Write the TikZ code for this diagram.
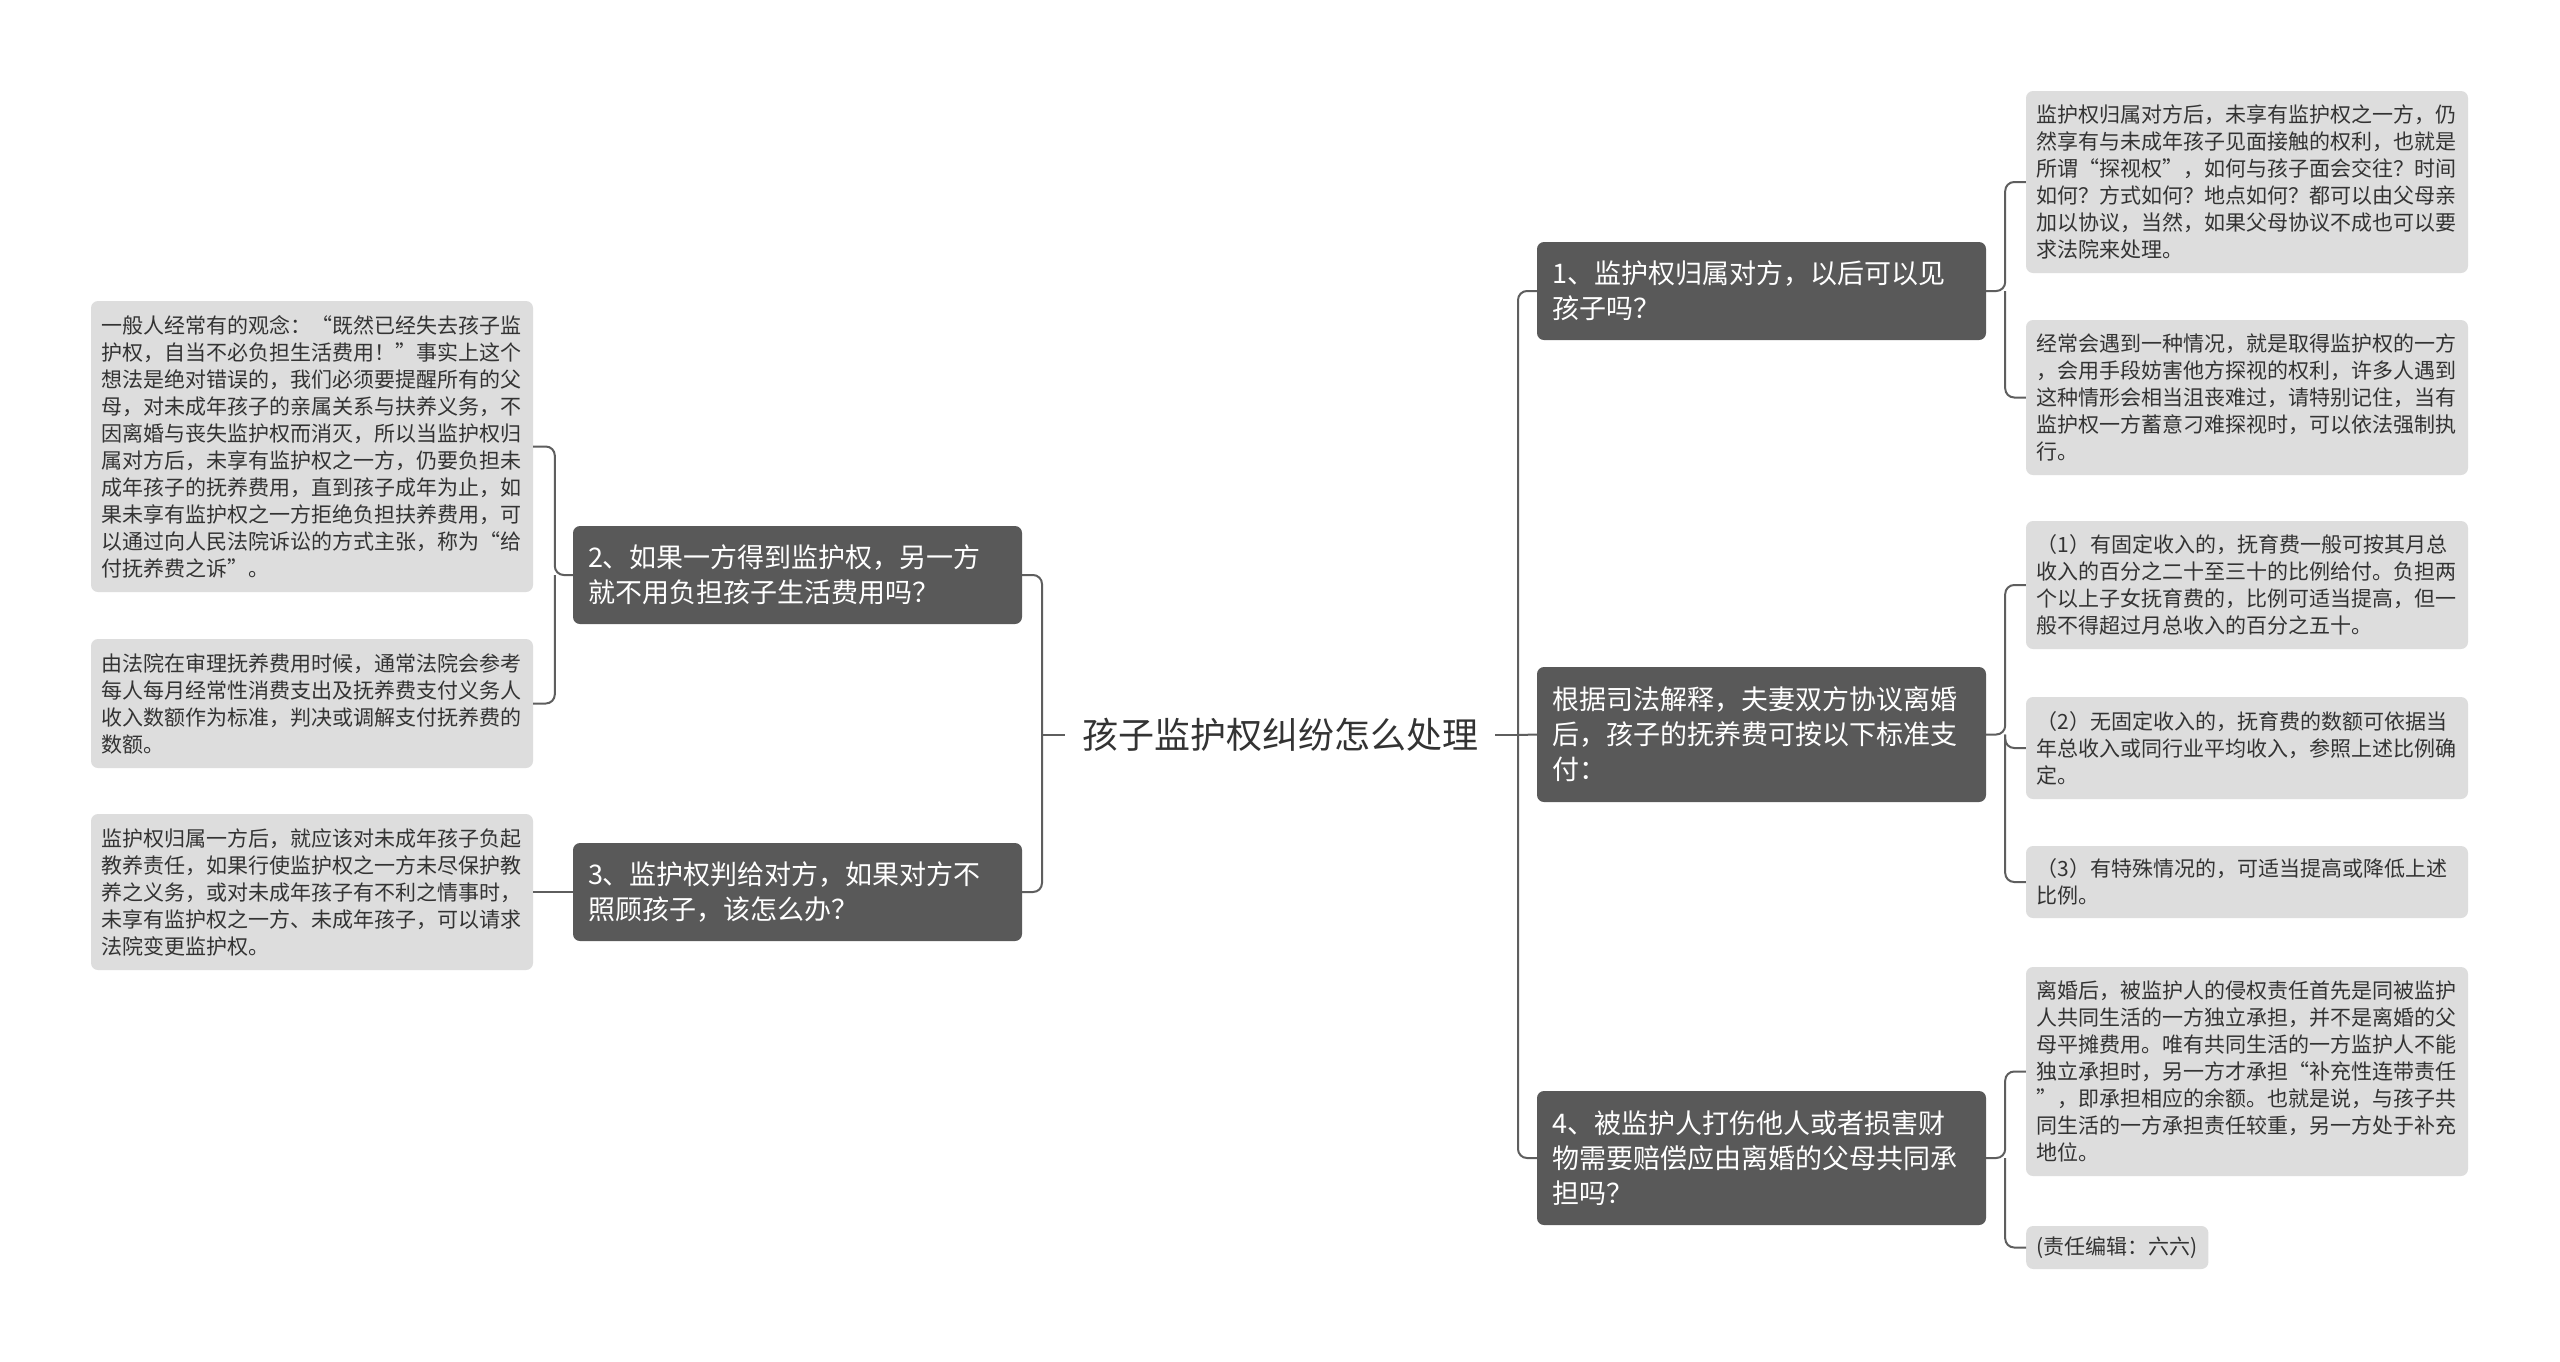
\documentclass[tikz,border=0pt]{standalone}
\usepackage{fontspec}
\setmainfont{Noto Sans CJK SC}
\definecolor{maingray}{HTML}{595959}
\definecolor{leafgray}{HTML}{DDDDDD}
\definecolor{linegray}{HTML}{5E5E5E}
\definecolor{txtdark}{HTML}{333333}
\tikzset{
  mainbox/.style={fill=maingray, rounded corners=7pt, text=white, align=left,
    text width=419pt, inner xsep=15pt, inner ysep=0pt,
    font=\fontsize{27pt}{35pt}\selectfont},
  leafbox/.style={fill=leafgray, rounded corners=7pt, text=txtdark, align=left,
    text width=421pt, inner xsep=10.5pt, inner ysep=0pt,
    font=\fontsize{21pt}{27pt}\selectfont},
  smallleaf/.style={fill=leafgray, rounded corners=7pt, text=txtdark,
    inner xsep=10.5pt, inner ysep=0pt, font=\fontsize{21pt}{27pt}\selectfont},
  conn/.style={draw=linegray, line width=2pt, rounded corners=9pt},
}
\begin{document}
\begin{tikzpicture}[x=1pt,y=-1pt]
\fill[white] (0,0) rectangle (2560,1361);
% center
\node[text=txtdark, font=\fontsize{36pt}{44pt}\selectfont, inner xsep=17pt] (c) at (1280,735) {孩子监护权纠纷怎么处理};
% right main nodes
\node[mainbox, minimum height=98pt] (m1) at (1761.5,291) {1、监护权归属对方，以后可以见\\孩子吗？};
\node[mainbox, minimum height=135pt] (m2) at (1761.5,734.5) {根据司法解释，夫妻双方协议离婚\\后，孩子的抚养费可按以下标准支\\付：};
\node[mainbox, minimum height=134pt] (m4) at (1761.5,1158) {4、被监护人打伤他人或者损害财\\物需要赔偿应由离婚的父母共同承\\担吗？};
% left main nodes
\node[mainbox, minimum height=98pt] (lm2) at (797.5,575) {2、如果一方得到监护权，另一方\\就不用负担孩子生活费用吗？};
\node[mainbox, minimum height=98pt] (lm3) at (797.5,892) {3、监护权判给对方，如果对方不\\照顾孩子，该怎么办？};
% right leaves
\node[leafbox, minimum height=182pt] (r1) at (2247,182) {监护权归属对方后，未享有监护权之一方，仍\\然享有与未成年孩子见面接触的权利，也就是\\所谓“探视权”，如何与孩子面会交往？时间\\如何？方式如何？地点如何？都可以由父母亲\\加以协议，当然，如果父母协议不成也可以要\\求法院来处理。};
\node[leafbox, minimum height=155pt] (r2) at (2247,397.5) {经常会遇到一种情况，就是取得监护权的一方\\，会用手段妨害他方探视的权利，许多人遇到\\这种情形会相当沮丧难过，请特别记住，当有\\监护权一方蓄意刁难探视时，可以依法强制执\\行。};
\node[leafbox, minimum height=128pt] (r3) at (2247,585) {（1）有固定收入的，抚育费一般可按其月总\\收入的百分之二十至三十的比例给付。负担两\\个以上子女抚育费的，比例可适当提高，但一\\般不得超过月总收入的百分之五十。};
\node[leafbox, minimum height=102pt] (r4) at (2247,748) {（2）无固定收入的，抚育费的数额可依据当\\年总收入或同行业平均收入，参照上述比例确\\定。};
\node[leafbox, minimum height=72pt] (r5) at (2247,882) {（3）有特殊情况的，可适当提高或降低上述\\比例。};
\node[leafbox, minimum height=209pt] (r6) at (2247,1071.5) {离婚后，被监护人的侵权责任首先是同被监护\\人共同生活的一方独立承担，并不是离婚的父\\母平摊费用。唯有共同生活的一方监护人不能\\独立承担时，另一方才承担“补充性连带责任\\”，即承担相应的余额。也就是说，与孩子共\\同生活的一方承担责任较重，另一方处于补充\\地位。};
\node[smallleaf, minimum height=43pt, anchor=west] (r7) at (2026,1247.5) {(责任编辑：六六)};
% left leaves
\node[leafbox, minimum height=291pt] (l1) at (312,446.5) {一般人经常有的观念：“既然已经失去孩子监\\护权，自当不必负担生活费用！”事实上这个\\想法是绝对错误的，我们必须要提醒所有的父\\母，对未成年孩子的亲属关系与扶养义务，不\\因离婚与丧失监护权而消灭，所以当监护权归\\属对方后，未享有监护权之一方，仍要负担未\\成年孩子的抚养费用，直到孩子成年为止，如\\果未享有监护权之一方拒绝负担扶养费用，可\\以通过向人民法院诉讼的方式主张，称为“给\\付抚养费之诉”。};
\node[leafbox, minimum height=129pt] (l2) at (312,703.5) {由法院在审理抚养费用时候，通常法院会参考\\每人每月经常性消费支出及抚养费支付义务人\\收入数额作为标准，判决或调解支付抚养费的\\数额。};
\node[leafbox, minimum height=156pt] (l3) at (312,892) {监护权归属一方后，就应该对未成年孩子负起\\教养责任，如果行使监护权之一方未尽保护教\\养之义务，或对未成年孩子有不利之情事时，\\未享有监护权之一方、未成年孩子，可以请求\\法院变更监护权。};
% junction coordinates
\coordinate (jR) at (1518,735);
\coordinate (jL) at (1042,735);
\path (m1.east) ++(19,0) coordinate (j1);
\path (m2.east) ++(19,0) coordinate (j2);
\path (m4.east) ++(19,0) coordinate (j4);
\path (lm2.west) ++(-18,0) coordinate (jl2);
% connectors center
\draw[conn] (c.east) -- (jR);
\draw[conn] (jR) |- (m1.west);
\draw[conn] (jR) -- (m2.west);
\draw[conn] (jR) |- (m4.west);
\draw[conn] (c.west) -- (jL);
\draw[conn] (jL) |- (lm2.east);
\draw[conn] (jL) |- (lm3.east);
% right subtrees
\draw[conn] (m1.east) -- (j1) |- (r1.west);
\draw[conn] (j1) |- (r2.west);
\draw[conn] (m2.east) -- (j2) |- (r3.west);
\draw[conn] (j2) |- (r4.west);
\draw[conn] (j2) |- (r5.west);
\draw[conn] (m4.east) -- (j4) |- (r6.west);
\draw[conn] (j4) |- (r7.west);
% left subtrees
\draw[conn] (lm2.west) -- (jl2) |- (l1.east);
\draw[conn] (jl2) |- (l2.east);
\draw[conn] (lm3.west) -- (l3.east);
\end{tikzpicture}
\end{document}
